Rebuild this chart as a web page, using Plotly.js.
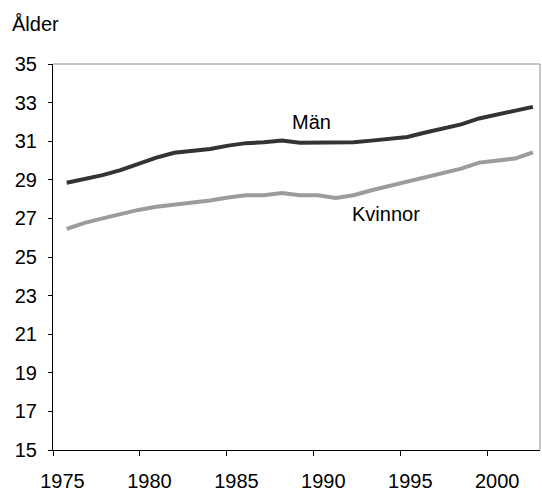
<!DOCTYPE html>
<html>
<head>
<meta charset="utf-8">
<script src="https://cdn.plot.ly/plotly-3.0.1.min.js"></script>
<style>
  html, body { margin: 0; padding: 0; background: #fff; }
  #chart { width: 542px; height: 491px; }
</style>
</head>
<body>
<div id="chart"></div>
<script>
// Years
const years = [1975,1976,1977,1978,1979,1980,1981,1982,1983,1984,1985,1986,1987,1988,1989,1990,1991,1992,1993,1994,1995,1996,1997,1998,1999,2000,2001];
// Medelålder, män
const man = [28.85,29.03,29.24,29.5,29.85,30.15,30.4,30.5,30.6,30.77,30.9,30.94,31.04,30.92,30.92,30.92,30.94,31.03,31.12,31.22,31.45,31.67,31.87,32.18,32.37,32.57,32.78];
// Medelålder, kvinnor
const kvinnor = [26.46,26.77,27.0,27.24,27.44,27.6,27.7,27.8,27.93,28.08,28.2,28.2,28.32,28.2,28.2,28.06,28.2,28.46,28.69,28.9,29.12,29.37,29.58,29.89,30.0,30.1,30.42];
// Axis tick labels
const xTickLabels = ['1975','1980','1985','1990','1995','2000'];
const yTickVals = [15,17,19,21,23,25,27,29,31,33,35];

const FONT = 'Liberation Sans, Arial, sans-serif';
const xRange = [1974.2355, 2001.395];
const tickStep = 4.849;      // spacing of the x tick marks (axis units)
const labelOffset = 0.53;    // labels sit a little right of their tick marks
const xTickVals = xTickLabels.map((_, k) => xRange[0] + labelOffset + k * tickStep);

const traces = [
  { x: years, y: man, type: 'scatter', mode: 'lines', name: 'Män',
    line: { color: '#333333', width: 4 }, hoverinfo: 'skip' },
  { x: years, y: kvinnor, type: 'scatter', mode: 'lines', name: 'Kvinnor',
    line: { color: '#9c9c9c', width: 4 }, hoverinfo: 'skip' }
];

const layout = {
  width: 542, height: 491,
  margin: { l: 53.3, r: 2, t: 64.3, b: 40.7, pad: 0 },
  paper_bgcolor: '#ffffff', plot_bgcolor: '#ffffff',
  showlegend: false,
  font: { family: FONT, size: 20, color: '#000' },
  xaxis: {
    range: xRange, showgrid: false, zeroline: false,
    showline: true, linecolor: '#000', linewidth: 1,
    ticks: '', ticklen: 5,
    tickmode: 'array', tickvals: xTickVals, ticktext: xTickLabels,
    ticklabelstandoff: 13,
    tickfont: { family: FONT, size: 20, color: '#000' },
    minor: { tickmode: 'linear', tick0: xRange[0], dtick: tickStep,
             ticks: 'outside', ticklen: 5, tickcolor: '#000', tickwidth: 1, showgrid: false }
  },
  yaxis: {
    range: [15, 35], showgrid: false, zeroline: false,
    showline: true, linecolor: '#000', linewidth: 1,
    ticks: 'outside', ticklen: 4, tickcolor: '#000', tickwidth: 1,
    tickmode: 'array', tickvals: yTickVals,
    ticklabelstandoff: 7,
    tickfont: { family: FONT, size: 20, color: '#000' }
  },
  shapes: [
    { type: 'line', xref: 'paper', yref: 'paper', x0: 0, x1: 1, y0: 1, y1: 1,
      line: { color: '#8c8c8c', width: 1 } },
    { type: 'line', xref: 'paper', yref: 'paper', x0: 1, x1: 1, y0: 0, y1: 1,
      line: { color: '#8c8c8c', width: 1 } }
  ],
  annotations: [
    { text: 'Ålder', xref: 'paper', yref: 'paper', x: -0.089, y: 1.1044,
      xanchor: 'left', yanchor: 'middle', showarrow: false,
      font: { family: FONT, size: 20, color: '#000' } },
    { text: 'Män', xref: 'x', yref: 'y', x: 1988.67, y: 31.98,
      xanchor: 'center', yanchor: 'middle', showarrow: false,
      font: { family: FONT, size: 20, color: '#000' } },
    { text: 'Kvinnor', xref: 'x', yref: 'y', x: 1992.8, y: 27.22,
      xanchor: 'center', yanchor: 'middle', showarrow: false,
      font: { family: FONT, size: 20, color: '#000' } }
  ]
};

Plotly.newPlot('chart', traces, layout, { staticPlot: true, displayModeBar: false });
</script>
</body>
</html>
